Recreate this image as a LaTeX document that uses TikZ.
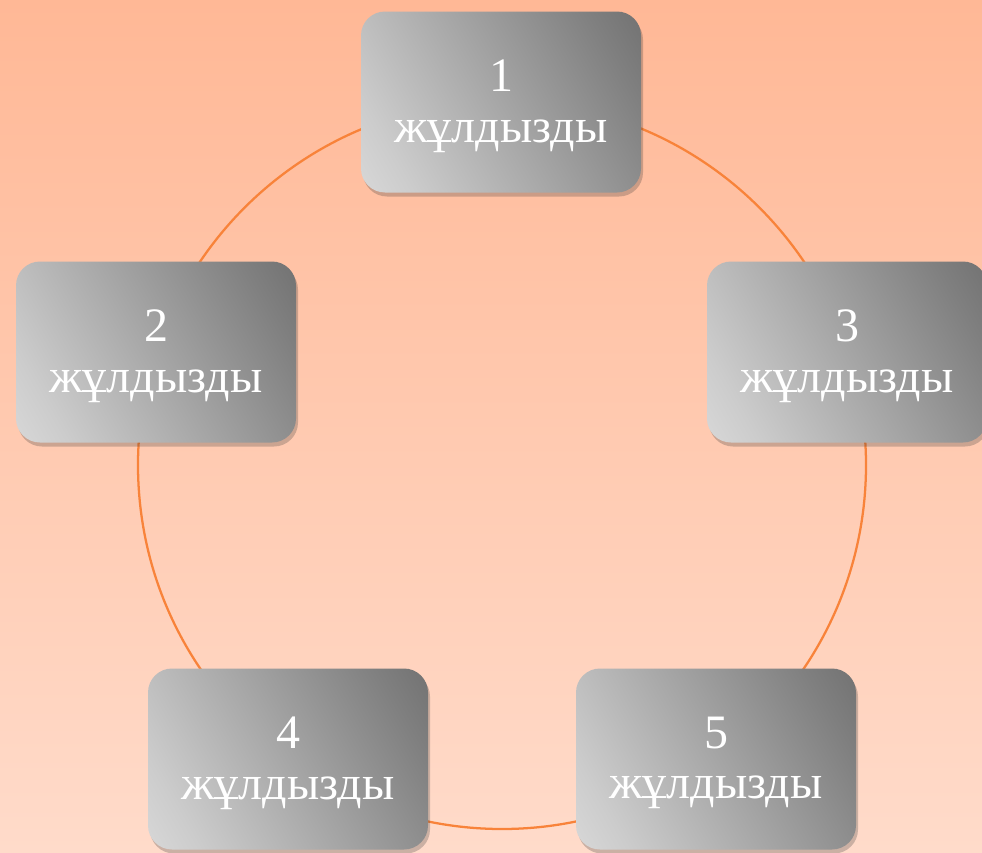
\documentclass[tikz,border=0pt]{standalone}
\usepackage{fontspec}
\setmainfont{Liberation Serif}
\usetikzlibrary{shadows}
\definecolor{bgtop}{HTML}{FFB896}
\definecolor{bgbot}{HTML}{FFDBCA}
\definecolor{ring}{HTML}{F8833A}
\pgfdeclareverticalshading{boxsh}{100bp}{color(0bp)=(black!8); color(25bp)=(black!20); color(75bp)=(black!50); color(100bp)=(black!64)}
\tikzset{
  starbox/.style={rounded corners=18pt, minimum width=210pt, minimum height=135.75pt,
    inner sep=0pt, shading=boxsh, shading angle=-60,
    drop shadow={shadow xshift=1.5pt, shadow yshift=-3pt, opacity=0.25, fill=black!80}},
  txt/.style={align=center, text=white, font=\fontsize{36}{38}\selectfont, yshift=-3pt},
  ringline/.style={draw=ring, line width=1.7pt}
}
\begin{document}
\begin{tikzpicture}[x=0.75pt,y=-0.75pt]
  \shade[top color=bgtop, bottom color=bgbot] (0,0) rectangle (982,853);
  \useasboundingbox (0,0) rectangle (982,853);
  \coordinate (c) at (502,465);
  \draw[ringline] (c) circle[radius=273pt];
  \node[starbox, label={[txt]center:1\\жұлдызды}] (b1) at (501,102) {};
  \node[starbox, label={[txt]center:2\\жұлдызды}] (b2) at (156,352) {};
  \node[starbox, label={[txt]center:3\\жұлдызды}] (b3) at (847,352) {};
  \node[starbox, label={[txt]center:4\\жұлдызды}] (b4) at (288,759) {};
  \node[starbox, label={[txt]center:5\\жұлдызды}] (b5) at (716,759) {};
\end{tikzpicture}
\end{document}
